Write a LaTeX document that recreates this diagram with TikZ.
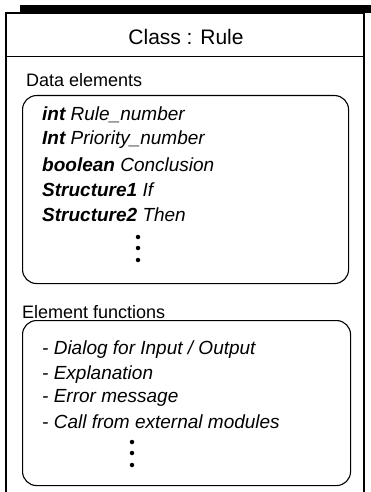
\documentclass[tikz,border=0pt]{standalone}
\usepackage{fontspec}
\setmainfont{Liberation Sans}
\usetikzlibrary{positioning}

\tikzset{
  head/.style={inner sep=0pt, font=\fontsize{21}{24}\selectfont},
  section/.style={anchor=west, inner sep=0pt, font=\fontsize{18}{21}\selectfont},
  entry/.style={anchor=west, inner sep=0pt, font=\fontsize{19}{22}\selectfont\itshape},
  panel/.style={draw, line width=1.1pt, rounded corners=14pt, anchor=north west, inner sep=0pt},
  dot/.style={circle, fill, inner sep=0pt, minimum size=4.5pt}
}

\begin{document}
\begin{tikzpicture}[x=1pt,y=-1pt]
\useasboundingbox (0,0) rectangle (371,492);
\coordinate (TL) at (6,13);
\coordinate (TR) at (364,13);
\coordinate (BL) at (6,492);
\coordinate (BR) at (364,492);
\coordinate (SL) at (6,57);
\coordinate (SR) at (364,57);

% outer frame
\fill (20,5) rectangle (371,13);
\draw[line width=1.3pt] (BL) -- (TL) -- (TR) -- (BR);
\draw[line width=1pt] (SL) -- (SR);

\node[head] (title) at (186,37) {Class : Rule};

% data elements
\node[section] (datalabel) at (26,80) {Data elements};
\node[panel, minimum width=326pt, minimum height=188pt] (data) at (22,95) {};
\foreach \y/\t [count=\i] in
  {115/{\textbf{int} Rule\_number},
   140/{\textbf{Int} Priority\_number},
   165/{\textbf{boolean} Conclusion},
   190/{\textbf{Structure1} If},
   215/{\textbf{Structure2} Then}}
{
  \node[entry] (d\i) at (42,\y) {\t};
};
\foreach \y [count=\i] in {237,248,260}
  \node[dot] (ddot\i) at (138,\y) {};

% element functions
\node[section] (funclabel) at (22,312) {Element functions};
\node[panel, minimum width=328pt, minimum height=165pt] (func) at (22,320) {};
\foreach \y/\t [count=\i] in
  {350/{- Dialog for Input / Output},
   375/{- Explanation},
   398/{- Error message},
   422/{- Call from external modules}}
{
  \node[entry] (f\i) at (42,\y) {\t};
};
\foreach \y [count=\i] in {442,453,465}
  \node[dot] (fdot\i) at (132,\y) {};
\end{tikzpicture}
\end{document}
